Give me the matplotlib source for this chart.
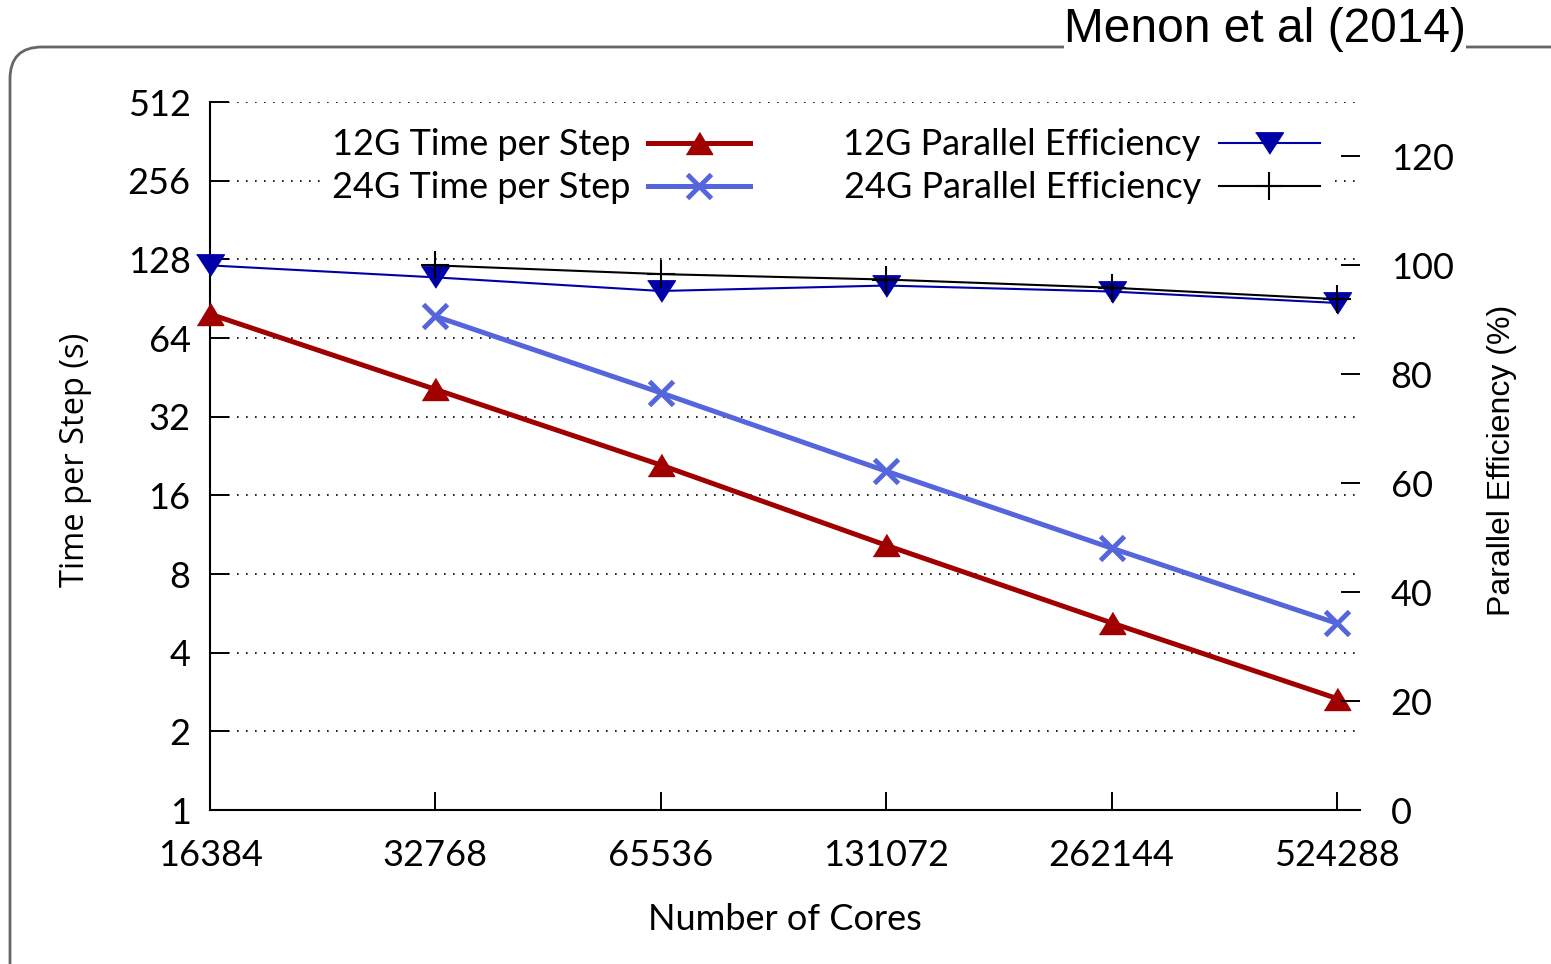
import numpy as np
import matplotlib
matplotlib.use("Agg")
import matplotlib.pyplot as plt
from matplotlib.patches import FancyBboxPatch
from matplotlib.transforms import IdentityTransform
from matplotlib.ticker import NullLocator

# ---- data -------------------------------------------------------------
cores = [16384, 32768, 65536, 131072, 262144, 524288]
core_labels = ["16384", "32768", "65536", "131072", "262144", "524288"]

time_12g = [79.0, 40.7, 20.9, 10.3, 5.2, 2.67]
time_24g = [np.nan, 77.5, 39.5, 19.8, 10.05, 5.18]

eff_12g = [100.0, 97.8, 95.3, 96.3, 95.2, 93.1]
eff_24g = [np.nan, 100.0, 98.4, 97.4, 95.9, 93.8]

time_ticks = [1, 2, 4, 8, 16, 32, 64, 128, 256, 512]
eff_ticks = [0, 20, 40, 60, 80, 100, 120]

series_labels = ["12G Time per Step", "24G Time per Step",
                 "12G Parallel Efficiency", "24G Parallel Efficiency"]

# ---- style ------------------------------------------------------------
plt.rcParams['font.family'] = ['Lato', 'DejaVu Sans']
TICK_FS = 26

W, H = 1551, 964
fig = plt.figure(figsize=(W / 100, H / 100), dpi=100)

# rounded slide frame behind the chart
frame = FancyBboxPatch((10, -60), 1640, H - 47 + 60,
                       boxstyle="round,pad=0,rounding_size=32",
                       transform=IdentityTransform(), facecolor="none",
                       edgecolor="#666666", linewidth=2.0, zorder=0)
fig.add_artist(frame)

fig.text(1265 / W, 1 - 30 / H, "Menon et al (2014)", ha="center", va="center",
         fontsize=34.5, family=["Liberation Sans", "DejaVu Sans"],
         bbox=dict(facecolor="white", edgecolor="none", pad=0))

ax = fig.add_axes([210 / W, 1 - 810 / H, 1150 / W, 708 / H])
ax.set_xscale("log", base=2)
ax.set_yscale("log", base=2)
ax.set_xlim(16384, 562700)
ax.set_ylim(1, 512)

ax.set_xticks(cores)
ax.set_xticklabels(core_labels)
ax.set_yticks(time_ticks)
ax.set_yticklabels([str(t) for t in time_ticks])
ax.xaxis.set_minor_locator(NullLocator())
ax.yaxis.set_minor_locator(NullLocator())

for s in ("top", "right"):
    ax.spines[s].set_visible(False)
for s in ("left", "bottom"):
    ax.spines[s].set_linewidth(1.5)

ax.tick_params(axis="y", direction="in", length=14, width=1.4,
               pad=14, labelsize=TICK_FS)
ax.tick_params(axis="x", direction="in", length=13, width=1.4,
               pad=21, labelsize=TICK_FS)
ax.yaxis.grid(True, linestyle=(0, (1, 4.4)), color="black", linewidth=1.2)

# custom wide triangles
tri_up = [(-0.6, -0.5), (0.6, -0.5), (0.0, 0.5)]
tri_dn = [(-0.65, 0.5), (0.65, 0.5), (0.0, -0.5)]

h1, = ax.plot(cores, time_12g, color="#a00000", lw=3.6, marker=tri_up,
              ms=19, clip_on=False, zorder=3)
h2, = ax.plot(cores, time_24g, color="#5566dd", lw=3.6, marker="x",
              ms=17, mew=3.5, clip_on=False, zorder=3)

ax2 = ax.twinx()
ax2.set_ylim(0, 130)
ax2.set_yticks(eff_ticks)
ax2.set_yticklabels([str(t) for t in eff_ticks])
ax2.yaxis.set_minor_locator(NullLocator())
for s in ax2.spines.values():
    s.set_visible(False)
ax2.tick_params(axis="y", direction="in", length=14, width=1.4,
                pad=22, labelsize=TICK_FS)

h3, = ax2.plot(cores, eff_12g, color="#0000a8", lw=1.5, marker=tri_dn,
               ms=20, clip_on=False, zorder=3)
h4, = ax2.plot(cores, eff_24g, color="black", lw=1.5, marker="+",
               ms=20, mew=1.5, clip_on=False, zorder=4)

leg = ax2.legend([h1, h2, h3, h4], series_labels, ncol=2, markerfirst=False,
                 loc="upper right", bbox_to_anchor=(0.9715, 0.973),
                 fontsize=TICK_FS, handlelength=2.8, handletextpad=0.5,
                 columnspacing=2.6, labelspacing=0.28, borderpad=0.2,
                 borderaxespad=0, frameon=True, fancybox=False,
                 facecolor="white", edgecolor="white", framealpha=1.0)
leg.set_zorder(10)

fig.text(75 / W, 1 - 460 / H, "Time per Step (s)", rotation=90,
         ha="center", va="center", fontsize=23.5,
         family=["Open Sans", "DejaVu Sans"])
fig.text(1502 / W, 1 - 460 / H, "Parallel Efficiency (%)", rotation=90,
         ha="center", va="center", fontsize=23,
         family=["Liberation Sans", "DejaVu Sans"])
fig.text(785 / W, 1 - 920 / H, "Number of Cores", ha="center", va="center",
         fontsize=TICK_FS)

fig.savefig("out.png", dpi=100)
